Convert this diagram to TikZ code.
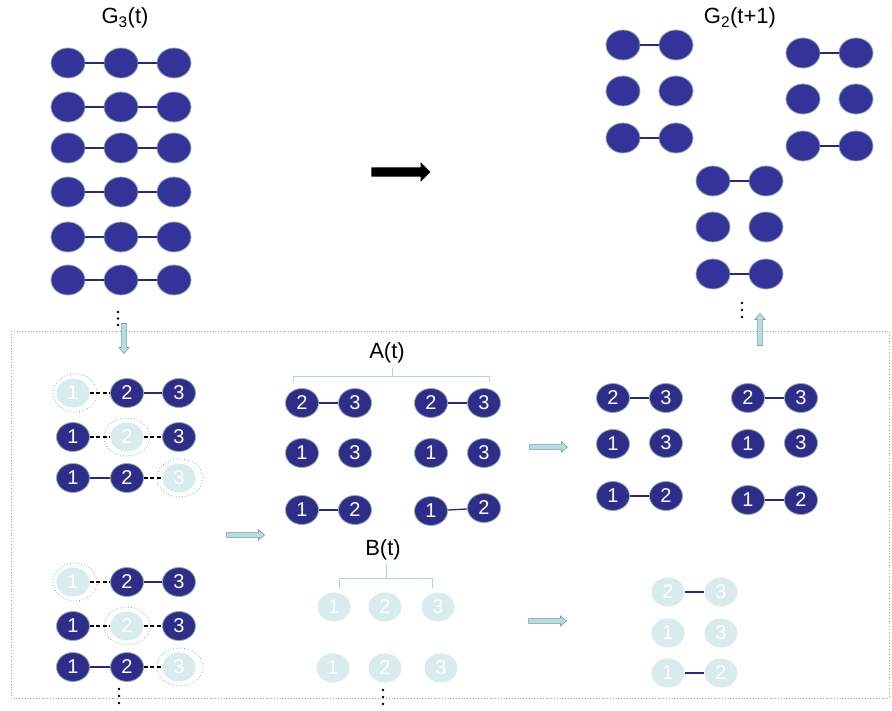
\documentclass[tikz,border=0pt]{standalone}
\usepackage{fontspec}
\setmainfont{Liberation Sans}
\usetikzlibrary{shapes.geometric, shapes.arrows}
\definecolor{dotblue}{RGB}{51,51,153}
\definecolor{numblue}{RGB}{46,46,138}
\definecolor{dotrim}{RGB}{140,172,176}
\definecolor{fadeblue}{RGB}{216,236,238}
\definecolor{edgeblue}{RGB}{40,40,130}
\definecolor{arrowfill}{RGB}{185,220,224}
\definecolor{arrowrim}{RGB}{120,160,165}
\definecolor{boxgray}{RGB}{150,168,172}
\definecolor{bracecol}{RGB}{170,212,218}
\tikzset{
    my-dot/.style={
        ellipse, draw=dotrim, fill=dotblue, line width=.8pt,
        minimum width=34pt, minimum height=30pt, inner sep=0pt
    },
    my-num/.style={
        my-dot, fill=numblue, minimum width=33pt, minimum height=29pt,
        text=white, font=\fontsize{20}{20}\selectfont
    },
    my-faded/.style={
        my-num, draw=none, fill=fadeblue
    },
    my-ring/.style={
        ellipse, draw=boxgray, dotted, line width=.8pt,
        minimum width=46pt, minimum height=38pt, inner sep=0pt
    },
    my-edge/.style={
        edgeblue, line width=1.3pt
    },
    my-cut/.style={
        black, dash pattern=on 4pt off 2.5pt, line width=1.3pt
    },
    my-flow/.style={
        single arrow, draw=arrowrim, fill=arrowfill, line width=.6pt,
        minimum height=38pt, inner xsep=0pt, inner ysep=2.3pt,
        single arrow head extend=2.5pt, single arrow tip angle=80
    },
    my-title/.style={
        font=\fontsize{22}{22}\selectfont
    },
}

\begin{document}
\begin{tikzpicture}[x=1pt, y=-1pt]

        \useasboundingbox (0,0) rectangle (892,711);

        % TITLES
        \node[my-title] (G3T) at (125, 18) {G\textsubscript{3}(t)};
        \node[my-title] (G2T) at (740, 18) {G\textsubscript{2}(t+1)};

        % G3(t) - SIX CHAINS OF THREE
        \foreach \r/\y in {1/63, 2/107, 3/148, 4/192, 5/237, 6/280} {
            \node[my-dot] (G3-\r-a) at (68, \y)  {};
            \node[my-dot] (G3-\r-b) at (121, \y) {};
            \node[my-dot] (G3-\r-c) at (174, \y) {};
            \draw[my-edge] (G3-\r-a) -- (G3-\r-b);
            \draw[my-edge] (G3-\r-b) -- (G3-\r-c);
        }
        \foreach \d in {0,1,2} \fill (118, 312+\d*6.5) circle (1.3pt);

        % BIG ARROW
        \node[single arrow, fill=black, minimum height=59pt, inner xsep=0pt,
              inner ysep=4.5pt, single arrow head extend=5pt] (STEP) at (398.5, 172) {};

        % G2(t+1) - THREE GROUPS OF PAIRS
        \foreach \g/\x/\y in {1/623/45, 2/803/53, 3/713/181} {
            \node[my-dot] (G2-\g-1a) at (\x, \y)          {};
            \node[my-dot] (G2-\g-1b) at (\x+53, \y)       {};
            \node[my-dot] (G2-\g-2a) at (\x, \y+46)       {};
            \node[my-dot] (G2-\g-2b) at (\x+53, \y+46)    {};
            \node[my-dot] (G2-\g-3a) at (\x, \y+93)       {};
            \node[my-dot] (G2-\g-3b) at (\x+53, \y+93)    {};
            \draw[my-edge] (G2-\g-1a) -- (G2-\g-1b);
            \draw[my-edge] (G2-\g-3a) -- (G2-\g-3b);
        }
        \foreach \d in {0,1,2} \fill (742, 303+\d*7) circle (1.3pt);

        % DOTTED FRAME
        \draw[boxgray, dotted, line width=.8pt] (11, 331) rectangle (889, 698);

        % FLOW ARROWS
        \node[my-flow, minimum height=30pt, rotate=-90] (DOWN) at (124, 337) {};
        \node[my-flow, minimum height=32pt, rotate=90]  (UP)   at (760, 331) {};
        \node[my-flow] (TOAB)  at (244, 535) {};
        \node[my-flow] (AFLOW) at (547, 447) {};
        \node[my-flow] (BFLOW) at (546, 621) {};

        % REMOVING ONE NODE - TWO COPIES
        \foreach \g/\y in {1/393, 2/582} {
            % node 1 removed
            \node[my-faded] (L\g-1-1) at (73, \y)  {1};
            \node[my-num]   (L\g-1-2) at (127, \y) {2};
            \node[my-num]   (L\g-1-3) at (179, \y) {3};
            \node[my-ring, minimum width=44pt] (R\g-1) at (75, \y) {};
            \draw[my-cut]  (L\g-1-1) -- (L\g-1-2);
            \draw[my-edge] (L\g-1-2) -- (L\g-1-3);
            % node 2 removed
            \node[my-num]   (L\g-2-1) at (73, \y+44)  {1};
            \node[my-faded] (L\g-2-2) at (127, \y+44) {2};
            \node[my-num]   (L\g-2-3) at (179, \y+44) {3};
            \node[my-ring] (R\g-2) at (127, \y+44) {};
            \draw[my-cut] (L\g-2-1) -- (L\g-2-2);
            \draw[my-cut] (L\g-2-2) -- (L\g-2-3);
            % node 3 removed
            \node[my-num]   (L\g-3-1) at (73, \y+85)  {1};
            \node[my-num]   (L\g-3-2) at (127, \y+85) {2};
            \node[my-faded] (L\g-3-3) at (179, \y+85) {3};
            \node[my-ring] (R\g-3) at (180, \y+85) {};
            \draw[my-edge] (L\g-3-1) -- (L\g-3-2);
            \draw[my-cut]  (L\g-3-2) -- (L\g-3-3);
        }
        \foreach \d in {0,1,2} \fill (119, 689+\d*7) circle (1.3pt);

        % A(t)
        \node[my-title] (AT) at (387, 353) {A(t)};
        \draw[bracecol, line width=.8pt] (293, 382) -- (293, 376) -- (489, 376) -- (489, 382);
        \draw[bracecol, line width=.8pt] (392, 376) -- (392, 368);
        \foreach \c/\x/\ya/\yb in {1/302/510/510, 2/431/511/508} {
            \node[my-num] (A\c-1a) at (\x, 403)    {2};
            \node[my-num] (A\c-1b) at (\x+53, 403) {3};
            \node[my-num] (A\c-2a) at (\x, 453)    {1};
            \node[my-num] (A\c-2b) at (\x+53, 453) {3};
            \node[my-num] (A\c-3a) at (\x, \ya)    {1};
            \node[my-num] (A\c-3b) at (\x+53, \yb) {2};
            \draw[my-edge] (A\c-1a) -- (A\c-1b);
            \draw[my-edge] (A\c-3a) -- (A\c-3b);
        }

        % A(t) AFTER ONE STEP
        \foreach \c/\x/\y in {1/613/496, 2/748/500} {
            \node[my-num] (AA\c-1a) at (\x, 398)    {2};
            \node[my-num] (AA\c-1b) at (\x+53, 398) {3};
            \node[my-num] (AA\c-2a) at (\x, 444)    {1};
            \node[my-num] (AA\c-2b) at (\x+53, 443) {3};
            \node[my-num] (AA\c-3a) at (\x, \y)     {1};
            \node[my-num] (AA\c-3b) at (\x+53, \y)  {2};
            \draw[my-edge] (AA\c-1a) -- (AA\c-1b);
            \draw[my-edge] (AA\c-3a) -- (AA\c-3b);
        }

        % B(t)
        \node[my-title] (BT) at (383, 550) {B(t)};
        \draw[bracecol, line width=.8pt] (339, 588) -- (339, 578) -- (432, 578) -- (432, 588);
        \draw[bracecol, line width=.8pt] (386, 578) -- (386, 565);
        \node[my-faded] (B1-1) at (334, 607) {1};
        \node[my-faded] (B1-2) at (385, 607) {2};
        \node[my-faded] (B1-3) at (438, 607) {3};
        \node[my-faded] (B2-1) at (333, 668) {1};
        \node[my-faded] (B2-2) at (385, 668) {2};
        \node[my-faded] (B2-3) at (441, 668) {3};
        \foreach \d in {0,1,2} \fill (383, 690+\d*7) circle (1.3pt);

        % B(t) AFTER ONE STEP
        \node[my-faded] (BB-1a) at (668, 592) {2};
        \node[my-faded] (BB-1b) at (721, 592) {3};
        \node[my-faded] (BB-2a) at (668, 633) {1};
        \node[my-faded] (BB-2b) at (721, 633) {3};
        \node[my-faded] (BB-3a) at (668, 673) {1};
        \node[my-faded] (BB-3b) at (721, 673) {2};
        \draw[my-edge] (BB-1a) -- (BB-1b);
        \draw[my-edge] (BB-3a) -- (BB-3b);

\end{tikzpicture}
\end{document}
